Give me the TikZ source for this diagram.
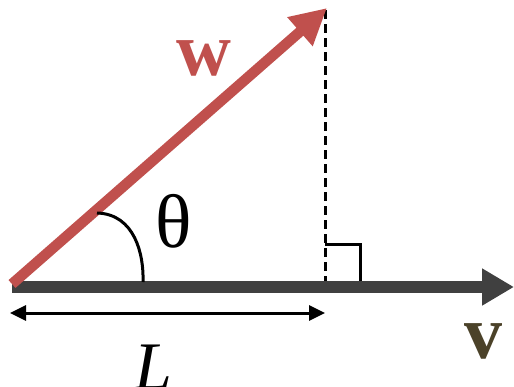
\documentclass[tikz,border=0pt]{standalone}
\usepackage{fontspec}
\setmainfont{Liberation Serif}
\usetikzlibrary{arrows.meta}
\definecolor{wred}{HTML}{C0504D}
\definecolor{vgray}{HTML}{404040}
\definecolor{volive}{HTML}{4B4229}
\begin{document}
\begin{tikzpicture}[x=1pt,y=-1pt,
  thin line/.style={line width=3pt,black},
  lbl/.style={inner sep=0pt,anchor=base}]
\useasboundingbox (0,0) rectangle (514,386);
\coordinate (O) at (12,284);
\coordinate (Ov) at (12,287);
\coordinate (Vend) at (514,287);
\coordinate (Wend) at (327,8);
\coordinate (Dtop) at (325,10);
\coordinate (Dbot) at (325,281);
\coordinate (Ra) at (325,244);
\coordinate (Rb) at (360,244);
\coordinate (Rc) at (360,281);
\coordinate (A1) at (97,213);
\coordinate (A2) at (143,282);
\coordinate (L1) at (10,313);
\coordinate (L2) at (325,313);
% v arrow
\draw[vgray,line width=12pt,-{Triangle[length=32pt,width=35pt]}] (Ov) -- (Vend);
% dashed projection
\draw[thin line,dash pattern=on 9pt off 5pt] (Dtop) -- (Dbot);
% right angle
\draw[thin line] (Ra) -- (Rb) -- (Rc);
% w arrow
\draw[wred,line width=10.5pt,-{Triangle[length=36pt,width=36pt]}] (O) -- (Wend);
% angle arc
\draw[thin line] (A1) .. controls (135,214) and (144,255) .. (A2);
% L measure
\draw[thin line,{Triangle[length=16pt,width=15pt]}-{Triangle[length=16pt,width=15pt]}] (L1) -- (L2);
% labels
\node[lbl] (theta) at (174,247) {\fontsize{76}{76}\selectfont θ};
\node[lbl] (w) at (204,75) {\fontsize{76}{76}\selectfont\bfseries\color{wred} w};
\node[lbl] (v) at (483,358) {\fontsize{76}{76}\selectfont\bfseries\color{volive} v};
\node[lbl] (L) at (153,389) {\fontsize{68}{68}\selectfont\itshape L};
\end{tikzpicture}
\end{document}
